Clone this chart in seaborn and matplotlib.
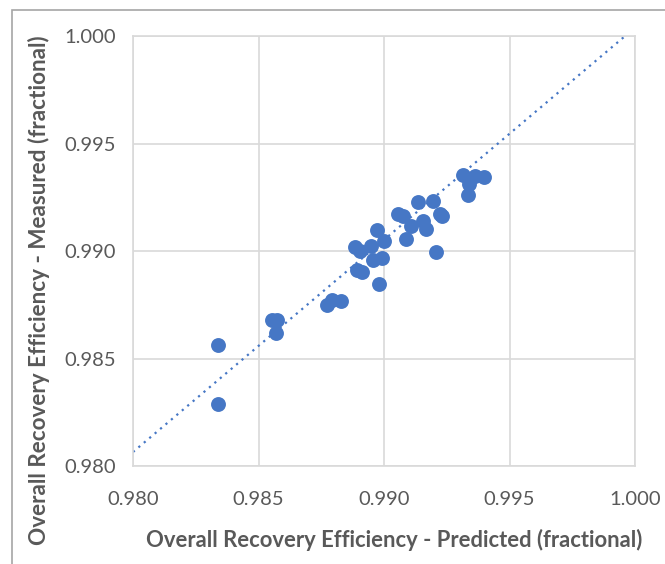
import matplotlib
matplotlib.use("Agg")
import matplotlib.pyplot as plt
import seaborn as sns
import pandas as pd
from matplotlib.patches import Rectangle

# Data
predicted = [0.98338, 0.98338, 0.98555, 0.98575, 0.98571, 0.98773, 0.98793, 0.98829,
             0.98885, 0.98905, 0.98893, 0.98913, 0.98950, 0.98970, 0.98958, 0.98990,
             0.98998, 0.98978, 0.99054, 0.99074, 0.99086, 0.99106, 0.99135, 0.99155,
             0.99167, 0.99195, 0.99207, 0.99223, 0.99231, 0.99316, 0.99340, 0.99336,
             0.99364, 0.99400]
measured = [0.98561, 0.98290, 0.98677, 0.98677, 0.98617, 0.98748, 0.98770, 0.98766,
            0.99019, 0.99000, 0.98911, 0.98902, 0.99023, 0.99098, 0.98958, 0.98967,
            0.99047, 0.98846, 0.99173, 0.99163, 0.99056, 0.99117, 0.99229, 0.99140,
            0.99103, 0.99234, 0.98996, 0.99173, 0.99164, 0.99355, 0.99313, 0.99262,
            0.99350, 0.99346]
trend_x = [0.9800, 0.9996]
trend_y = [0.98065, 1.0000]
ticks = [0.980, 0.985, 0.990, 0.995, 1.000]
tick_labels = ["0.980", "0.985", "0.990", "0.995", "1.000"]

df = pd.DataFrame({"Predicted": predicted, "Measured": measured})

sns.set_theme(style="white")
plt.rcParams["font.family"] = ["Lato", "DejaVu Sans"]

blue = "#4677C5"
grid = "#D9D9D9"
txt = "#595959"

fig = plt.figure(figsize=(6.65, 5.64), dpi=100)
ax = fig.add_axes([0.2, 0.1738, 0.755, 0.7622])

ax.plot(trend_x, trend_y, linestyle=(0, (1, 2.2)), color=blue, lw=1.6, zorder=2)
sns.scatterplot(data=df, x="Predicted", y="Measured", ax=ax, color=blue,
                s=115, edgecolor=blue, linewidth=0, alpha=1, zorder=3)

ax.set_xlim(0.980, 1.000)
ax.set_ylim(0.980, 1.000)
ax.set_xticks(ticks)
ax.set_xticklabels(tick_labels)
ax.set_yticks(ticks)
ax.set_yticklabels(tick_labels)
ax.grid(True, color=grid, lw=1.2)
ax.set_axisbelow(True)
for sp in ax.spines.values():
    sp.set_color(grid)
    sp.set_linewidth(1.2)
ax.tick_params(axis="both", length=0, labelsize=14.5, labelcolor=txt)
ax.tick_params(axis="y", pad=12)
ax.tick_params(axis="x", pad=18)

ax.set_xlabel("Overall Recovery Efficiency - Predicted (fractional)",
              fontsize=15.8, fontweight="bold", color=txt)
ax.set_ylabel("Overall Recovery Efficiency - Measured (fractional)",
              fontsize=16.2, fontweight="bold", color=txt)
ax.xaxis.set_label_coords(0.52, -0.147)
ax.yaxis.set_label_coords(-0.165, 0.41)

# outer chart border
fig.patches.append(Rectangle((12 / 665, -0.05), 1.1, 1 - 10 / 564 + 0.05,
                             transform=fig.transFigure, fill=False,
                             edgecolor="#A6A6A6", lw=1.2, zorder=0))

fig.savefig("out.png", dpi=100, facecolor="white")
